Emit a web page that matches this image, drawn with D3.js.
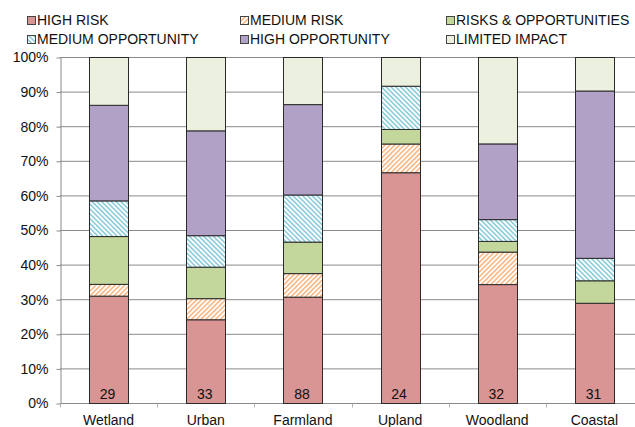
<!DOCTYPE html>
<html>
<head>
<meta charset="utf-8">
<script src="https://cdn.jsdelivr.net/npm/d3@7"></script>
<style>
  body { margin: 0; background: #fff; }
  svg { display: block; font-family: "Liberation Sans", Arial, Helvetica, sans-serif; }
</style>
</head>
<body>
<svg id="svg" width="635" height="427"></svg>
<script>
// values (% of sites per landscape)
const categories = ["Wetland", "Urban", "Farmland", "Upland", "Woodland", "Coastal"];
const sampleSizes = [29, 33, 88, 24, 32, 31];
const seriesNames = ["HIGH RISK", "MEDIUM RISK", "RISKS & OPPORTUNITIES", "MEDIUM OPPORTUNITY", "HIGH OPPORTUNITY", "LIMITED IMPACT"];
const highRisk      = [31.0, 24.2, 30.7, 66.7, 34.4, 29.0];
const mediumRisk    = [3.4, 6.1, 6.8, 8.3, 9.4, 0];
const risksOpp      = [13.8, 9.1, 9.1, 4.2, 3.1, 6.5];
const mediumOpp     = [10.3, 9.1, 13.6, 12.5, 6.3, 6.5];
const highOpp       = [27.6, 30.3, 26.1, 0, 21.9, 48.4];
const limitedImpact = [13.8, 21.2, 13.6, 8.3, 25.0, 9.7];
const yTicks = [0, 0.1, 0.2, 0.3, 0.4, 0.5, 0.6, 0.7, 0.8, 0.9, 1];

const seriesValues = [highRisk, mediumRisk, risksOpp, mediumOpp, highOpp, limitedImpact];
const fills = ["#d99594", "url(#hatchOrange)", "#c3d69b", "url(#hatchBlue)", "#b2a1c7", "#ebf1de"];

const margin = {left: 60, top: 57, right: -8, bottom: 24};
const width = 635, height = 427;

const svg = d3.select("#svg");

// hatch patterns
const defs = svg.append("defs");
function hatch(id, color, angle) {
    const p = defs.append("pattern")
        .attr("id", id)
        .attr("patternUnits", "userSpaceOnUse")
        .attr("width", 3.4).attr("height", 3.4)
        .attr("patternTransform", `rotate(${angle})`);
    p.append("rect").attr("width", 3.4).attr("height", 3.4).attr("fill", "#fff");
    p.append("rect").attr("width", 1.6).attr("height", 3.4).attr("fill", color);
}
hatch("hatchOrange", "#fbb784", 45);
hatch("hatchBlue", "#8ccbdc", -45);

// table for stacking
const table = categories.map((c, i) => {
    const row = {category: c, n: sampleSizes[i]};
    seriesNames.forEach((s, j) => row[s] = seriesValues[j][i]);
    return row;
});
const stacked = d3.stack().keys(seriesNames).offset(d3.stackOffsetExpand)(table);

const xScale = d3.scaleBand().domain(categories)
    .range([margin.left, width - margin.right])
    .paddingInner(0.6).paddingOuter(0.3);
const yScale = d3.scaleLinear().domain([0, 1]).range([height - margin.bottom, margin.top]);

// gridlines
svg.append("g")
    .selectAll("line")
    .data(yTicks.slice(1))
    .enter().append("line")
    .attr("x1", margin.left).attr("x2", width)
    .attr("y1", d => yScale(d) + 0.5).attr("y2", d => yScale(d) + 0.5)
    .attr("stroke", "#8a8a8a").attr("stroke-width", 1);

// y axis
const yAxis = svg.append("g")
    .attr("transform", `translate(${margin.left + 0.5}, 0.5)`)
    .call(d3.axisLeft(yScale).tickValues(yTicks).tickFormat(d3.format(".0%")).tickSize(4).tickSizeOuter(0).tickPadding(8));
yAxis.select(".domain").attr("stroke", "#8a8a8a");
yAxis.selectAll(".tick line").attr("stroke", "#8a8a8a");
yAxis.selectAll(".tick text").attr("font-size", 14).attr("fill", "#111").attr("font-family", null);

// x axis line + ticks at band edges
const x0 = yScale(0) + 0.5;
svg.append("line")
    .attr("x1", margin.left).attr("x2", width)
    .attr("y1", x0).attr("y2", x0)
    .attr("stroke", "#8a8a8a");
svg.append("g").selectAll("line")
    .data(d3.range(categories.length + 1))
    .enter().append("line")
    .attr("x1", i => Math.round(xScale.range()[0] + i * xScale.step()) + 0.5)
    .attr("x2", i => Math.round(xScale.range()[0] + i * xScale.step()) + 0.5)
    .attr("y1", x0).attr("y2", x0 + 4)
    .attr("stroke", "#b0b0b0");
svg.append("g").selectAll("text")
    .data(categories)
    .enter().append("text")
    .attr("x", d => xScale(d) + xScale.bandwidth() / 2)
    .attr("y", 425)
    .attr("text-anchor", "middle")
    .attr("font-size", 14).attr("fill", "#111")
    .text(d => d);

// bars
svg.append("g")
    .selectAll("g")
    .data(stacked)
    .enter().append("g")
    .attr("fill", (d, i) => fills[i])
    .selectAll("rect")
    .data(d => d.filter(p => p[1] - p[0] > 0))
    .enter().append("rect")
    .attr("x", d => Math.round(xScale(d.data.category)) + 0.5)
    .attr("y", d => yScale(d[1]) + 0.5)
    .attr("width", Math.round(xScale.bandwidth()))
    .attr("height", d => yScale(d[0]) - yScale(d[1]))
    .attr("stroke", "#2a2a2a").attr("stroke-width", 1);

// sample sizes
svg.append("g").selectAll("text")
    .data(table)
    .enter().append("text")
    .attr("x", d => xScale(d.category) + xScale.bandwidth() / 2 - 1)
    .attr("y", 399)
    .attr("text-anchor", "middle")
    .attr("font-size", 14).attr("fill", "#111")
    .text(d => d.n);

// legend
const legendX = [27, 240, 446];
const legend = svg.append("g").selectAll("g")
    .data(seriesNames)
    .enter().append("g")
    .attr("transform", (d, i) => `translate(${legendX[i % 3]}, ${i < 3 ? 16 : 35})`);
legend.append("rect")
    .attr("x", 0.5).attr("y", 0.5).attr("width", 8).attr("height", 8)
    .attr("fill", (d, i) => fills[i])
    .attr("stroke", "#444");
legend.append("text")
    .attr("x", 10).attr("y", 9)
    .attr("font-size", 14).attr("fill", "#111")
    .text(d => d);
</script>
</body>
</html>
